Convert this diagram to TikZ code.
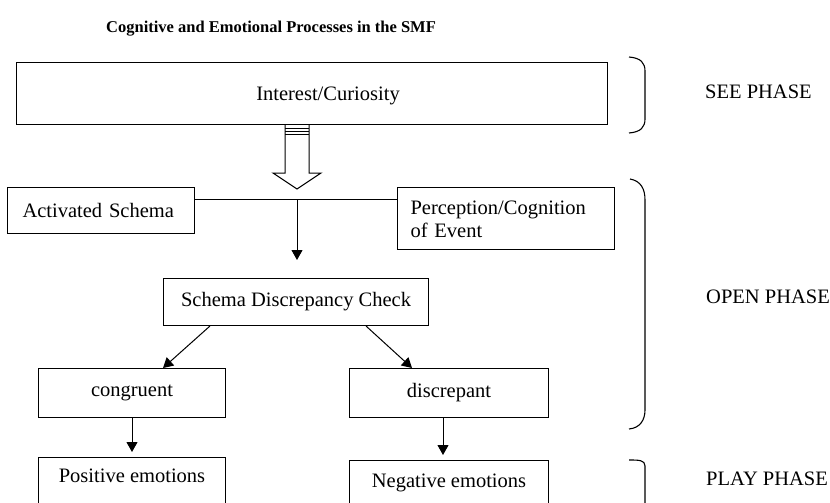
\documentclass[tikz,border=0pt]{standalone}
\usepackage{fontspec}
\setmainfont{Liberation Serif}
\usetikzlibrary{arrows.meta,calc}
\begin{document}
\begin{tikzpicture}[x=1pt,y=-1pt,
  every node/.style={font=\fontsize{20.5}{23.5}\selectfont},
  box/.style={draw, line width=1pt, anchor=north west, inner sep=0pt},
  conn/.style={line width=1pt, -{Triangle[length=10pt,width=11pt]}},
  plainline/.style={line width=1pt},
  brace/.style={line width=1.1pt},
  phase/.style={anchor=base west, inner sep=0pt}]
\useasboundingbox (0,0) rectangle (830,503);
\clip (0,0) rectangle (830,503);
% title
\node[anchor=base west, inner sep=0pt, font=\fontsize{16.5}{19}\selectfont\bfseries] (title) at (106,33) {Cognitive and Emotional Processes in the SMF};
% boxes
\node[box, minimum width=591, minimum height=62] (interest) at (16,62) {};
\node (interesttext) at ($(interest.center)+(16,2)$) {Interest/Curiosity};
\node[box, minimum width=187, minimum height=46, inner xsep=15, text width=157, align=left] (act) at (7,187) {Activated Schema};
\node[box, minimum width=217, minimum height=62, inner xsep=13, text width=191, align=left] (perc) at (397,187) {\rule{0pt}{18pt}Perception/Cognition\\of Event\rule[-3pt]{0pt}{3pt}};
\node[box, minimum width=265, minimum height=47] (sdc) at (163,278) {Schema Discrepancy Check};
\node[box, minimum width=187, minimum height=49] (cong) at (38,368) {congruent};
\node[box, minimum width=199, minimum height=49] (disc) at (349,368) {discrepant};
\node[box, minimum width=187, text height=15, text depth=40, inner ysep=10] (pos) at (38,457) {Positive emotions};
\node[box, minimum width=199, text height=15, text depth=40, inner ysep=12] (neg) at (349,460) {Negative emotions};
% block arrow
\coordinate (ba) at ($(interest.south west)+(281,0)$);
\draw[plainline, fill=white] ($(ba)+(-12,0)$) -- ++(0,48) -- ++(-12,0) -- ($(ba)+(0,64)$) -- ++(24,-16) -- ++(-12,0) -- ++(0,-48);
\foreach \s in {3,6,9} \draw[plainline] ($(ba)+(-12,\s)$) -- ++(24,0);
% junction
\coordinate (jl) at ($(act.north east)+(0,12)$);
\draw[plainline] (jl) -- (jl -| perc.west);
\coordinate (j) at (jl -| ba);
\draw[conn] (j) -- ($(j |- sdc.north)+(0,-18)$);
% branches
\draw[conn] ($(sdc.south west)+(47,0)$) -- ($(cong.north west)+(125,0)$);
\draw[conn] ($(sdc.south east)+(-63,0)$) -- ($(disc.north west)+(63,0)$);
\draw[conn] (cong.south) -- ($(cong.south |- pos.north)+(0,-5)$);
\coordinate (dd) at ($(disc.south west)+(94,0)$);
\draw[conn] (dd) -- ($(dd |- neg.north)+(0,-5)$);
% braces
\draw[brace] (629,57) .. controls (641,58) and (645,63) .. (645,71) -- (645,119) .. controls (645,127) and (641,132) .. (629,133);
\draw[brace] (630,179) .. controls (641,181) and (645,189) .. (645,200) -- (645,410) .. controls (645,420) and (640,428) .. (629,429);
\draw[brace] (629,460) .. controls (639,460) and (645,460) .. (645,466) -- (645,510);
% phase labels
\node[phase] (see) at (705,98) {SEE PHASE};
\node[phase] (open) at (706,303) {OPEN PHASE};
\node[phase] (play) at (706,485) {PLAY PHASE};
\end{tikzpicture}
\end{document}
